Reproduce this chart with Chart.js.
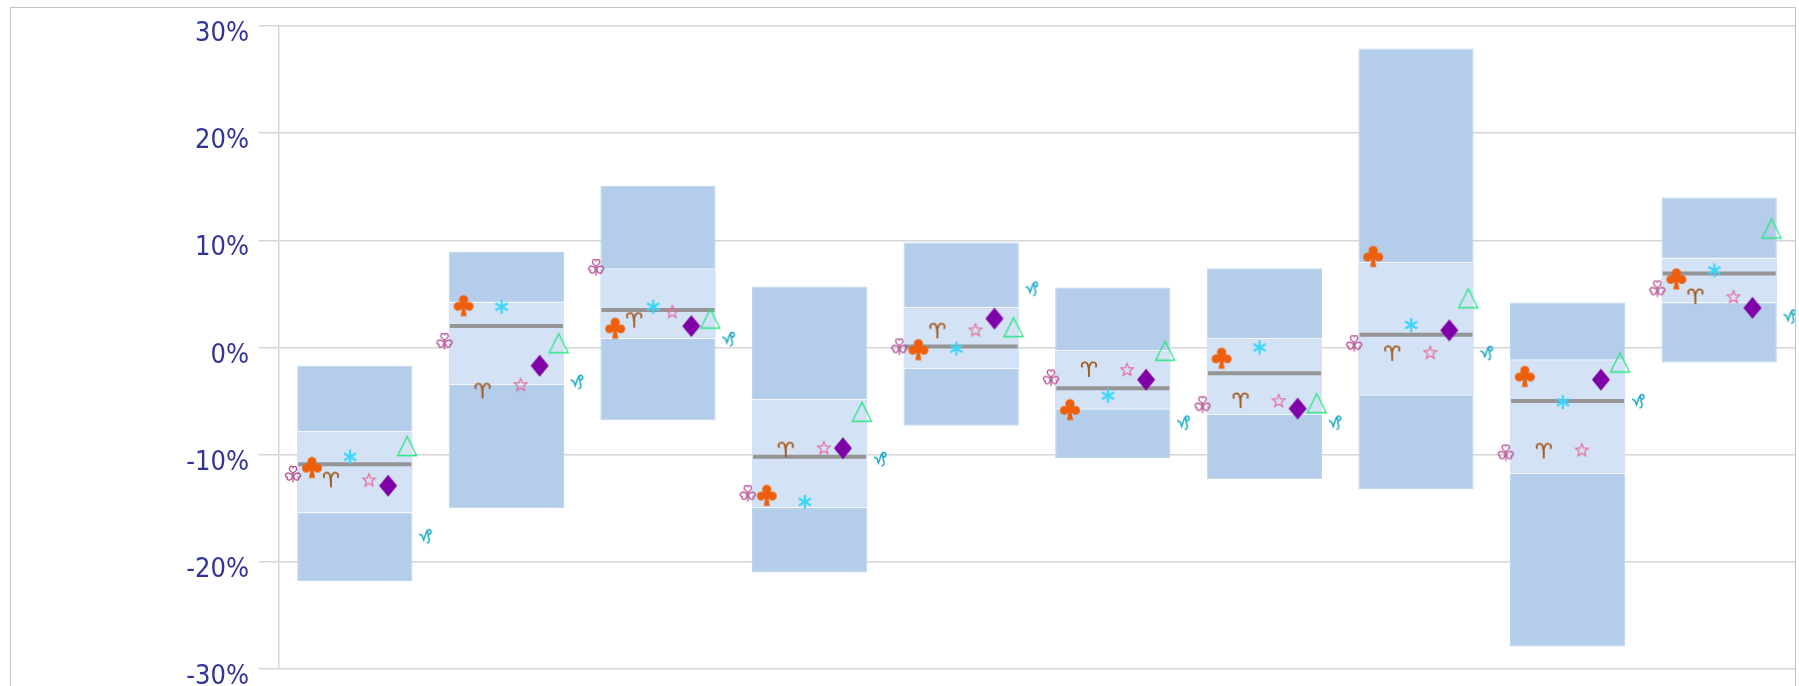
<!DOCTYPE html>
<html><head><meta charset="utf-8">
<style>
html,body{margin:0;padding:0;background:#fff;overflow:hidden}
#wrap{position:relative;width:1799px;height:686px;overflow:hidden}
#frame{position:absolute;left:10px;top:7px;width:1786px;height:700px;border:1px solid #c4c4c4;box-sizing:border-box;pointer-events:none}
canvas{position:absolute;left:0;top:0}
</style>
<script src="https://cdn.jsdelivr.net/npm/chart.js@4/dist/chart.umd.min.js"></script>
</head><body><div id="wrap"><canvas id="c" width="1799" height="686"></canvas><div id="frame"></div></div>
<script>
const categories = ['1','2','3','4','5','6','7','8','9','10'];
const yTicks = [30,20,10,0,-10,-20,-30];
const outerLow  = [-21.8,-15,-6.8,-21,-7.3,-10.3,-12.3,-13.2,-27.9,-1.4];
const outerHigh = [-1.7,8.9,15.1,5.7,9.8,5.6,7.4,27.9,4.2,14];
const innerLow  = [-15.5,-3.5,0.8,-15,-2,-5.8,-6.3,-4.5,-11.8,4.1];
const innerHigh = [-7.8,4.3,7.4,-4.8,3.8,-0.2,0.9,8,-1.1,8.4];
const median    = [-10.9,2,3.5,-10.2,0.1,-3.8,-2.4,1.2,-5,6.9];
const clover    = [-11.8,0.6,7.5,-13.6,0.1,-2.8,-5.3,0.4,-9.8,5.5];
const club      = [-11.2,3.9,1.8,-13.8,-0.2,-5.8,-1,8.5,-2.7,6.4];
const aries     = [-12.3,-4,2.6,-9.5,1.6,-2,-4.9,-0.5,-9.6,4.8];
const asterisk  = [-10.2,3.8,3.8,-14.4,-0.1,-4.5,0,2.1,-5.1,7.2];
const star      = [-12.4,-3.5,3.3,-9.4,1.6,-2.1,-5,-0.5,-9.6,4.7];
const diamond   = [-12.9,-1.7,2,-9.4,2.7,-3,-5.7,1.6,-3,3.7];
const triangle  = [-9.2,0.4,2.7,-6,1.9,-0.3,-5.2,4.6,-1.4,11.1];
const capricorn = [-17.6,-3.2,0.8,-10.4,5.5,-7,-7,-0.5,-5,2.9];

function mk(w,h,draw){const c=document.createElement('canvas');c.width=w;c.height=h;const g=c.getContext('2d');g.translate(w/2,h/2);draw(g);return c;}
const icons={
 clover:mk(22,24,g=>{g.strokeStyle='#b4488f';g.lineWidth=1.25;
   const leaf=(rot)=>{g.save();g.rotate(rot);g.beginPath();g.moveTo(0,-1);g.bezierCurveTo(-2.2,-2,-4.8,-4.2,-3.3,-6.6);g.bezierCurveTo(-2.5,-7.9,-.6,-7.7,0,-6.6);g.bezierCurveTo(.6,-7.7,2.5,-7.9,3.3,-6.6);g.bezierCurveTo(4.8,-4.2,2.2,-2,0,-1);g.stroke();g.restore();};
   leaf(0);leaf(2.1);leaf(-2.1);
   g.beginPath();g.moveTo(0,-1);g.lineTo(0,8.5);g.stroke();}),
 club:mk(26,28,g=>{g.fillStyle='#ee5f0c';
   [[0,-6,4.6],[-5.6,0.6,4.4],[5.6,0.6,4.4],[0,-1,4.2]].forEach(c=>{g.beginPath();g.arc(c[0],c[1],c[2],0,7);g.fill();});
   g.beginPath();g.moveTo(-1.2,0);g.lineTo(1.2,0);g.lineTo(3,10.5);g.lineTo(-3,10.5);g.closePath();g.fill();}),
 aries:mk(20,20,g=>{g.strokeStyle='#a35a1e';g.lineWidth=1.8;g.beginPath();g.moveTo(-6.5,-1.5);g.bezierCurveTo(-9.5,-6,-3,-8.5,-1.5,-5);g.bezierCurveTo(-.5,-3,0,0,0,8);g.moveTo(0,8);g.lineTo(0,0);g.bezierCurveTo(0,-3,.5,-3,1.5,-5);g.bezierCurveTo(3,-8.5,9.5,-6,6.5,-1.5);g.stroke();}),
 asterisk:mk(18,18,g=>{g.strokeStyle='#3bd5fb';g.lineWidth=2.2;for(let i=0;i<3;i++){const a=Math.PI/2+i*Math.PI/3,x=7*Math.cos(a),y=7*Math.sin(a);g.beginPath();g.moveTo(-x,-y);g.lineTo(x,y);g.stroke();}}),
 star:mk(18,18,g=>{g.strokeStyle='#e96a9c';g.lineWidth=1.2;g.beginPath();for(let i=0;i<10;i++){const r=i%2?2.9:6.6,a=-Math.PI/2+i*Math.PI/5;g.lineTo(r*Math.cos(a),r*Math.sin(a));}g.closePath();g.stroke();}),
 diamond:mk(22,26,g=>{g.fillStyle='#7f00a6';g.beginPath();g.moveTo(0,-11);g.lineTo(9,0);g.lineTo(0,11);g.lineTo(-9,0);g.closePath();g.fill();}),
 triangle:mk(24,24,g=>{g.strokeStyle='#25e680';g.lineWidth=1.3;g.beginPath();g.moveTo(0,-9.5);g.lineTo(9.5,9.5);g.lineTo(-9.5,9.5);g.closePath();g.stroke();}),
 capricorn:mk(20,20,g=>{g.strokeStyle='#1aa9c2';g.lineWidth=1.5;g.beginPath();g.moveTo(-7,-2);g.lineTo(-4,-.5);g.lineTo(-2.5,4);g.lineTo(-.5,-2);g.bezierCurveTo(.5,-5,1,-6,2.5,-6.5);g.bezierCurveTo(5,-7,6,-3,3.5,-2);g.bezierCurveTo(1.5,-1.4,1,-3.5,2,-5);g.moveTo(1.8,-1.5);g.lineTo(3,3);g.bezierCurveTo(3.5,6,2,7,.5,6.5);g.stroke();})
};
const markerSeries=[['clover',clover],['club',club],['aries',aries],['asterisk',asterisk],['star',star],['diamond',diamond],['triangle',triangle],['capricorn',capricorn]];
const markerSets=markerSeries.map(([name,vals],k)=>({
  type:'scatter',label:name,xAxisID:'x2',order:1,
  data:vals.map((v,i)=>({x:i+0.5-0.408+k*0.1255,y:v})),
  pointStyle:icons[name],pointRadius:10,pointHoverRadius:10
}));
const floats=(lo,hi)=>lo.map((v,i)=>[v,hi[i]]);
new Chart(document.getElementById('c'),{
  type:'bar',
  data:{labels:categories,datasets:[
    {label:'outer',data:floats(outerLow,outerHigh),backgroundColor:'#b3cdeb',borderColor:'#bdd4ee',borderWidth:1,grouped:false,barPercentage:1,categoryPercentage:0.76,order:4,borderSkipped:false},
    {label:'inner',data:floats(innerLow,innerHigh),backgroundColor:'#d3e2f4',borderColor:'#f2f6fc',borderWidth:{top:1.5,bottom:1.5,left:0,right:0},grouped:false,barPercentage:1,categoryPercentage:0.76,order:3,borderSkipped:false},
    {type:'line',label:'median',data:median,showLine:false,pointStyle:'line',pointRadius:56.5,pointHoverRadius:56.5,pointBorderWidth:4,pointBorderColor:'#959595',borderColor:'#959595',order:2},
    ...markerSets
  ]},
  options:{
    responsive:false,animation:false,
    layout:{autoPadding:false,padding:{top:26,bottom:17,right:4,left:0}},
    plugins:{legend:{display:false},tooltip:{enabled:false}},
    scales:{
      x:{display:false,offset:true},
      x2:{type:'linear',display:false,min:0,max:10,offset:false},
      y:{min:-30,max:30,
        afterBuildTicks:s=>{s.ticks=yTicks.map(v=>({value:v}));},
        afterFit:s=>{s.width=279;s.paddingTop=0;s.paddingBottom=0;},
        grid:{color:'#d6d6d6',lineWidth:1.5,tickLength:20,tickColor:'#d6d6d6',drawTicks:true},
        border:{color:'#d6d6d6',width:1.5},
        ticks:{color:'#333399',padding:10,labelOffset:8,font:{family:'"DejaVu Sans Condensed","DejaVu Sans"',size:27},callback:v=>v+'%'}
      }
    }
  }
});
</script></body></html>
